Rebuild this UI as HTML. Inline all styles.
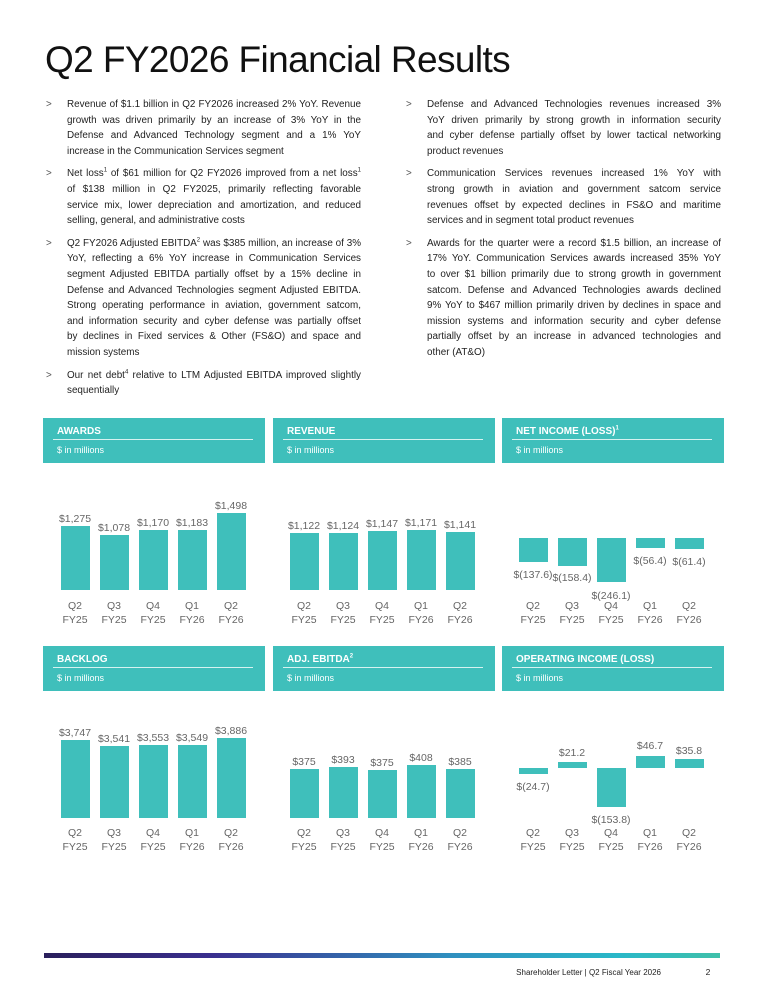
<!DOCTYPE html>
<html><head><meta charset="utf-8"><style>
body{margin:0;width:765px;height:990px;background:#fff;position:relative;font-family:"Liberation Sans",sans-serif;overflow:hidden}
h1{position:absolute;left:45px;top:39px;margin:0;font-weight:400;font-size:37px;color:#111;letter-spacing:-0.6px}
.col{position:absolute;top:97px;width:294px;font-size:9.9px;line-height:15.6px;color:#222}
.pp{margin:0 0 7px 0;position:relative}
.pp .ln{white-space:nowrap;text-align:justify;text-align-last:justify}
.pp .ln.l{text-align-last:left}
.pp:before{content:">";position:absolute;left:-21px;top:0;color:#555}
sup{font-size:6px;line-height:0}
.hd{position:absolute;background:#3fbfbb;width:222px;height:45px;color:#fff}
.hd b{position:absolute;left:14px;top:8px;font-size:10px}
.hd i{position:absolute;left:10px;right:12px;top:21px;border-top:1px solid #d6f2f0}
.hd span{position:absolute;left:14px;top:27px;font-size:9px}
svg{position:absolute;left:0;top:0}
.bar{position:absolute;width:29px;background:#3fbfbb}
</style></head><body>
<h1>Q2 FY2026 Financial Results</h1>
<div class="col" style="left:67px">
<div class="pp"><div class="ln">Revenue of $1.1 billion in Q2 FY2026 increased 2% YoY. Revenue</div><div class="ln">growth was driven primarily by an increase of 3% YoY in the</div><div class="ln">Defense and Advanced Technology segment and a 1% YoY</div><div class="ln l">increase in the Communication Services segment</div></div>
<div class="pp"><div class="ln">Net loss<sup>1</sup> of $61 million for Q2 FY2026 improved from a net loss<sup>1</sup></div><div class="ln">of $138 million in Q2 FY2025, primarily reflecting favorable</div><div class="ln">service mix, lower depreciation and amortization, and reduced</div><div class="ln l">selling, general, and administrative costs</div></div>
<div class="pp"><div class="ln">Q2 FY2026 Adjusted EBITDA<sup>2</sup> was $385 million, an increase of 3%</div><div class="ln">YoY, reflecting a 6% YoY increase in Communication Services</div><div class="ln">segment Adjusted EBITDA partially offset by a 15% decline in</div><div class="ln">Defense and Advanced Technologies segment Adjusted EBITDA.</div><div class="ln">Strong operating performance in aviation, government satcom,</div><div class="ln">and information security and cyber defense was partially offset</div><div class="ln">by declines in Fixed services &amp; Other (FS&amp;O) and space and</div><div class="ln l">mission systems</div></div>
<div class="pp"><div class="ln">Our net debt<sup>4</sup> relative to LTM Adjusted EBITDA improved slightly</div><div class="ln l">sequentially</div></div>
</div>
<div class="col" style="left:427px">
<div class="pp"><div class="ln">Defense and Advanced Technologies revenues increased 3%</div><div class="ln">YoY driven primarily by strong growth in information security</div><div class="ln">and cyber defense partially offset by lower tactical networking</div><div class="ln l">product revenues</div></div>
<div class="pp"><div class="ln">Communication Services revenues increased 1% YoY with</div><div class="ln">strong growth in aviation and government satcom service</div><div class="ln">revenues offset by expected declines in FS&amp;O and maritime</div><div class="ln l">services and in segment total product revenues</div></div>
<div class="pp"><div class="ln">Awards for the quarter were a record $1.5 billion, an increase of</div><div class="ln">17% YoY. Communication Services awards increased 35% YoY</div><div class="ln">to over $1 billion primarily due to strong growth in government</div><div class="ln">satcom. Defense and Advanced Technologies awards declined</div><div class="ln">9% YoY to $467 million primarily driven by declines in space and</div><div class="ln">mission systems and information security and cyber defense</div><div class="ln">partially offset by an increase in advanced technologies and</div><div class="ln l">other (AT&amp;O)</div></div>
</div>

<div class="hd" style="left:43px;top:418px"><b>AWARDS</b><i></i><span>$ in millions</span></div>
<div class="hd" style="left:273px;top:418px"><b>REVENUE</b><i></i><span>$ in millions</span></div>
<div class="hd" style="left:502px;top:418px"><b>NET INCOME (LOSS)<sup>1</sup></b><i></i><span>$ in millions</span></div>
<div class="hd" style="left:43px;top:646px"><b>BACKLOG</b><i></i><span>$ in millions</span></div>
<div class="hd" style="left:273px;top:646px"><b>ADJ. EBITDA<sup>2</sup></b><i></i><span>$ in millions</span></div>
<div class="hd" style="left:502px;top:646px"><b>OPERATING INCOME (LOSS)</b><i></i><span>$ in millions</span></div>

<div class="bar" style="left:61px;top:526px;height:64px"></div>
<div class="bar" style="left:100px;top:535px;height:55px"></div>
<div class="bar" style="left:139px;top:530px;height:60px"></div>
<div class="bar" style="left:178px;top:530px;height:60px"></div>
<div class="bar" style="left:217px;top:513px;height:77px"></div>

<div class="bar" style="left:290px;top:533px;height:57px"></div>
<div class="bar" style="left:329px;top:533px;height:57px"></div>
<div class="bar" style="left:368px;top:531px;height:59px"></div>
<div class="bar" style="left:407px;top:530px;height:60px"></div>
<div class="bar" style="left:446px;top:532px;height:58px"></div>

<div class="bar" style="left:519px;top:538px;height:24px"></div>
<div class="bar" style="left:558px;top:538px;height:28px"></div>
<div class="bar" style="left:597px;top:538px;height:44px"></div>
<div class="bar" style="left:636px;top:538px;height:10px"></div>
<div class="bar" style="left:675px;top:538px;height:11px"></div>

<div class="bar" style="left:61px;top:740px;height:78px"></div>
<div class="bar" style="left:100px;top:746px;height:72px"></div>
<div class="bar" style="left:139px;top:745px;height:73px"></div>
<div class="bar" style="left:178px;top:745px;height:73px"></div>
<div class="bar" style="left:217px;top:738px;height:80px"></div>

<div class="bar" style="left:290px;top:769px;height:49px"></div>
<div class="bar" style="left:329px;top:767px;height:51px"></div>
<div class="bar" style="left:368px;top:770px;height:48px"></div>
<div class="bar" style="left:407px;top:765px;height:53px"></div>
<div class="bar" style="left:446px;top:769px;height:49px"></div>

<div class="bar" style="left:519px;top:768px;height:6px"></div>
<div class="bar" style="left:558px;top:762px;height:6px"></div>
<div class="bar" style="left:597px;top:768px;height:39px"></div>
<div class="bar" style="left:636px;top:756px;height:12px"></div>
<div class="bar" style="left:675px;top:759px;height:9px"></div>

<svg width="765" height="990" font-family="Liberation Sans, sans-serif" font-size="10.5" fill="#666" text-anchor="middle">
<g>
<text x="75" y="522">$1,275</text><text x="114" y="531">$1,078</text><text x="153" y="526">$1,170</text><text x="192" y="526">$1,183</text><text x="231" y="509">$1,498</text>
<text x="304" y="529">$1,122</text><text x="343" y="529">$1,124</text><text x="382" y="527">$1,147</text><text x="421" y="526">$1,171</text><text x="460" y="528">$1,141</text>
<text x="533" y="578">$(137.6)</text><text x="572" y="581">$(158.4)</text><text x="611" y="599">$(246.1)</text><text x="650" y="564">$(56.4)</text><text x="689" y="565">$(61.4)</text>
<text x="75" y="736">$3,747</text><text x="114" y="742">$3,541</text><text x="153" y="741">$3,553</text><text x="192" y="741">$3,549</text><text x="231" y="734">$3,886</text>
<text x="304" y="765">$375</text><text x="343" y="763">$393</text><text x="382" y="766">$375</text><text x="421" y="761">$408</text><text x="460" y="765">$385</text>
<text x="533" y="790">$(24.7)</text><text x="572" y="756">$21.2</text><text x="611" y="823">$(153.8)</text><text x="650" y="749">$46.7</text><text x="689" y="754">$35.8</text>
</g>
<g id="c1">
<text x="75" y="609">Q2</text><text x="75" y="623">FY25</text>
<text x="114" y="609">Q3</text><text x="114" y="623">FY25</text>
<text x="153" y="609">Q4</text><text x="153" y="623">FY25</text>
<text x="192" y="609">Q1</text><text x="192" y="623">FY26</text>
<text x="231" y="609">Q2</text><text x="231" y="623">FY26</text>
</g>
<use href="#c1" x="229"/><use href="#c1" x="458"/>
<use href="#c1" y="227"/><use href="#c1" x="229" y="227"/><use href="#c1" x="458" y="227"/>
<defs><linearGradient id="g" x1="0" x2="1"><stop offset="0" stop-color="#2a1f5c"/><stop offset="0.25" stop-color="#3a2f8f"/><stop offset="0.6" stop-color="#2f8fbf"/><stop offset="0.85" stop-color="#2ab8c8"/><stop offset="1" stop-color="#3fc0aa"/></linearGradient></defs>
<rect x="44" y="953" width="676" height="5" fill="url(#g)"/>
<text x="661" y="975" font-size="8" fill="#222" text-anchor="end">Shareholder Letter | Q2 Fiscal Year 2026</text>
<text x="708" y="975" font-size="8.5" fill="#222">2</text>
</svg>
</body></html>
